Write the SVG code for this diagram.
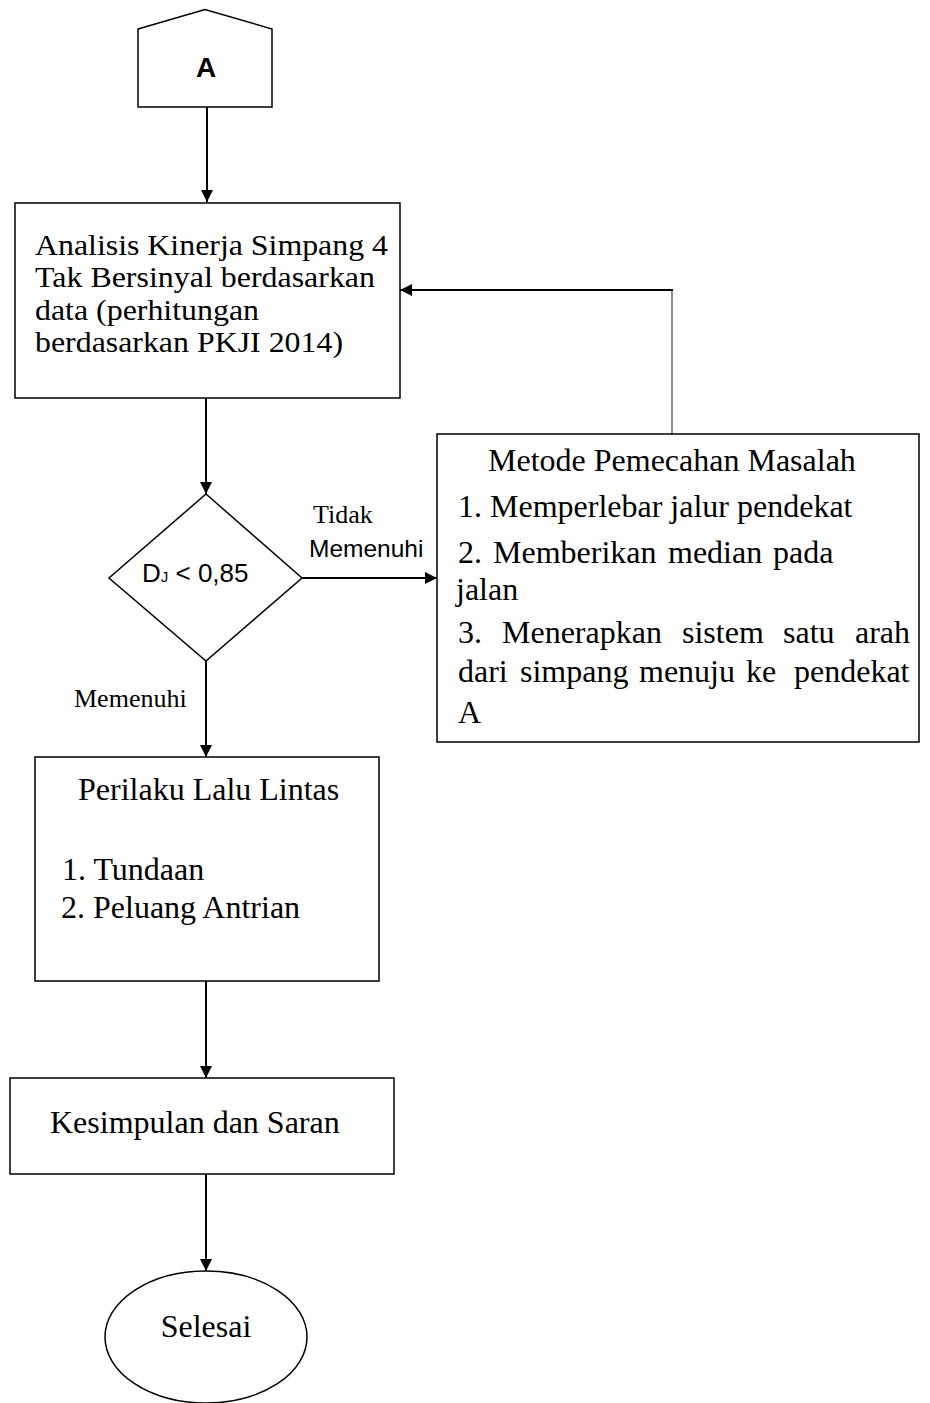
<svg xmlns="http://www.w3.org/2000/svg" width="930" height="1403" viewBox="0 0 930 1403">
<style>
.shape{fill:#fff;stroke:#000;stroke-width:1.5}
.t{font-family:"Liberation Serif","Times New Roman",serif;font-size:32px;fill:#000}
.t2{font-family:"Liberation Serif","Times New Roman",serif;font-size:29px;fill:#000}
.lbl{font-family:"Liberation Serif","Times New Roman",serif;font-size:26px;fill:#000}
.sans{font-family:"Liberation Sans",Arial,sans-serif;fill:#000}
.c{fill:none;stroke:#000;stroke-width:2}
</style>
<defs>
<marker id="ah" viewBox="0 0 12 12" refX="12" refY="6" markerWidth="12" markerHeight="12" markerUnits="userSpaceOnUse" orient="auto">
<path d="M0,0 L12,6 L0,12 Z" fill="#000"/>
</marker>
</defs>
<rect width="930" height="1403" fill="#fff"/>
<g id="connectors">
<line class="c" x1="207" y1="106" x2="207" y2="202" marker-end="url(#ah)"/>
<line class="c" x1="206" y1="398" x2="206" y2="494" marker-end="url(#ah)"/>
<line class="c" x1="302" y1="578" x2="437" y2="578" marker-end="url(#ah)"/>
<polyline fill="none" stroke="#444" stroke-width="1.2" points="672,434 672,290"/>
<line class="c" x1="673" y1="290" x2="400" y2="290" marker-end="url(#ah)"/>
<line class="c" x1="206" y1="661" x2="206" y2="757" marker-end="url(#ah)"/>
<line class="c" x1="206" y1="981" x2="206" y2="1078" marker-end="url(#ah)"/>
<line class="c" x1="206" y1="1174" x2="206" y2="1271" marker-end="url(#ah)"/>
<text class="lbl" x="313" y="523">Tidak</text>
<text class="sans" x="309" y="557" font-size="24.5">Memenuhi</text>
<text class="lbl" x="74" y="707">Memenuhi</text>
</g>
<g id="start-A">
<polygon class="shape" points="138,29 205,9.5 272,29 272,107 138,107"/>
<text class="sans" x="206" y="77" font-size="28" font-weight="bold" text-anchor="middle">A</text>
</g>
<g id="analisis">
<rect class="shape" x="15" y="203" width="385" height="195"/>
<text class="t2" x="35" y="255" textLength="353" lengthAdjust="spacingAndGlyphs">Analisis Kinerja Simpang 4</text>
<text class="t2" x="35" y="287" textLength="340" lengthAdjust="spacingAndGlyphs">Tak Bersinyal berdasarkan</text>
<text class="t2" x="35" y="320" textLength="224" lengthAdjust="spacingAndGlyphs">data (perhitungan</text>
<text class="t2" x="35" y="352" textLength="308" lengthAdjust="spacingAndGlyphs">berdasarkan PKJI 2014)</text>
</g>
<g id="decision">
<polygon class="shape" points="206,494 302,578 206,661 109,578"/>
<text class="sans" x="142" y="582" font-size="26">D<tspan font-size="15">J</tspan> &lt; 0,85</text>
</g>
<g id="metode">
<rect class="shape" x="437" y="434" width="482" height="308"/>
<text class="t" x="488" y="471">Metode Pemecahan Masalah</text>
<text class="t" x="458" y="517">1. Memperlebar jalur pendekat</text>
<text class="t" y="563"><tspan x="458">2.</tspan><tspan x="493">Memberikan</tspan><tspan x="668">median</tspan><tspan x="773">pada</tspan></text>
<text class="t" x="456" y="600">jalan</text>
<text class="t" y="643"><tspan x="458">3.</tspan><tspan x="502">Menerapkan</tspan><tspan x="682">sistem</tspan><tspan x="783">satu</tspan><tspan x="855">arah</tspan></text>
<text class="t" y="682"><tspan x="458">dari</tspan><tspan x="520">simpang</tspan><tspan x="639">menuju</tspan><tspan x="746">ke</tspan><tspan x="794">pendekat</tspan></text>
<text class="t" x="458" y="723">A</text>
</g>
<g id="perilaku">
<rect class="shape" x="35" y="757" width="344" height="224"/>
<text class="t" x="78" y="800">Perilaku Lalu Lintas</text>
<text class="t" x="62" y="880">1. Tundaan</text>
<text class="t" x="61" y="918">2. Peluang Antrian</text>
</g>
<g id="kesimpulan">
<rect class="shape" x="10" y="1078" width="384" height="96"/>
<text class="t" x="50" y="1133">Kesimpulan dan Saran</text>
</g>
<g id="selesai">
<ellipse class="shape" cx="206" cy="1337" rx="101" ry="66"/>
<text class="t" x="206" y="1337" text-anchor="middle">Selesai</text>
</g>
</svg>
